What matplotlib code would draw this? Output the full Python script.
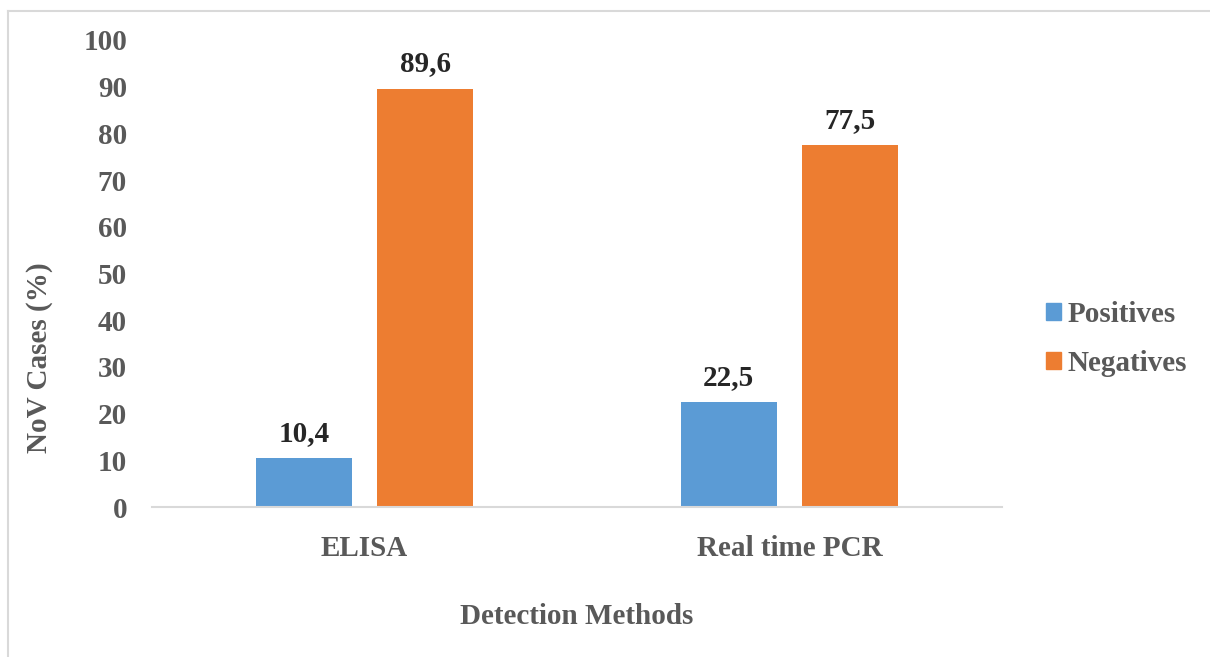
import numpy as np
import matplotlib.pyplot as plt
from matplotlib.lines import Line2D
from matplotlib.patches import Patch

methods = ['ELISA', 'Real time PCR']
positives = [10.4, 22.5]
negatives = [89.6, 77.5]
series_names = ['Positives', 'Negatives']
yticks = [0, 10, 20, 30, 40, 50, 60, 70, 80, 90, 100]

blue = '#5B9BD5'
orange = '#ED7D31'
gray_txt = '#595959'
fs = 21

plt.rcParams['font.family'] = ['Liberation Serif', 'DejaVu Serif']
plt.rcParams['font.weight'] = 'bold'

W, H = 1210, 657
fig = plt.figure(figsize=(W / 100, H / 100), dpi=100)
ax = fig.add_axes([152 / W, 1 - 507 / H, 850 / W, 467 / H])

x = np.arange(len(methods))
bw = 0.226
off = 0.143
b1 = ax.bar(x - off, positives, bw, color=blue, label=series_names[0])
b2 = ax.bar(x + off, negatives, bw, color=orange, label=series_names[1])

for bars, vals in ((b1, positives), (b2, negatives)):
    for r, v in zip(bars, vals):
        ax.annotate(('%.1f' % v).replace('.', ','),
                    (r.get_x() + r.get_width() / 2, v),
                    xytext=(0, 8), textcoords='offset points',
                    ha='center', va='bottom', fontsize=fs,
                    fontweight='bold', color='#262626')

ax.set_xlim(-0.5, 1.5)
ax.set_ylim(0, 100)
ax.set_yticks(yticks)
ax.set_xticks(x)
ax.set_xticklabels(methods)
ax.tick_params(axis='both', length=0, labelsize=fs, labelcolor=gray_txt)
ax.tick_params(axis='y', pad=18)
ax.tick_params(axis='x', pad=20)
for lab in ax.get_xticklabels() + ax.get_yticklabels():
    lab.set_fontweight('bold')

for s in ['top', 'right', 'left']:
    ax.spines[s].set_visible(False)
ax.spines['bottom'].set_color('#D9D9D9')
ax.spines['bottom'].set_linewidth(1.5)

fig.text(40 / W, 1 - 358 / H, 'NoV Cases (%)', rotation=90, ha='center',
         va='center', fontsize=fs, fontweight='bold', color=gray_txt)
fig.text(577 / W, 1 - 617 / H, 'Detection Methods', ha='center',
         va='center', fontsize=fs, fontweight='bold', color=gray_txt)

handles = [Patch(color=blue), Patch(color=orange)]
leg = fig.legend(handles, series_names, loc='center left',
                 bbox_to_anchor=(1020 / W, 1 - 339 / H), frameon=False,
                 fontsize=fs, handlelength=0.52, handleheight=0.52,
                 handletextpad=0.2, labelspacing=0.75)
for t in leg.get_texts():
    t.set_color(gray_txt)
    t.set_fontweight('bold')

# outer chart-area frame (only top and left visible in the crop)
fig.add_artist(Line2D([8 / W, 1], [1 - 11 / H, 1 - 11 / H], color='#D9D9D9', lw=1.5))
fig.add_artist(Line2D([8 / W, 8 / W], [0, 1 - 11 / H], color='#D9D9D9', lw=1.5))

fig.savefig('out.png', dpi=100)
